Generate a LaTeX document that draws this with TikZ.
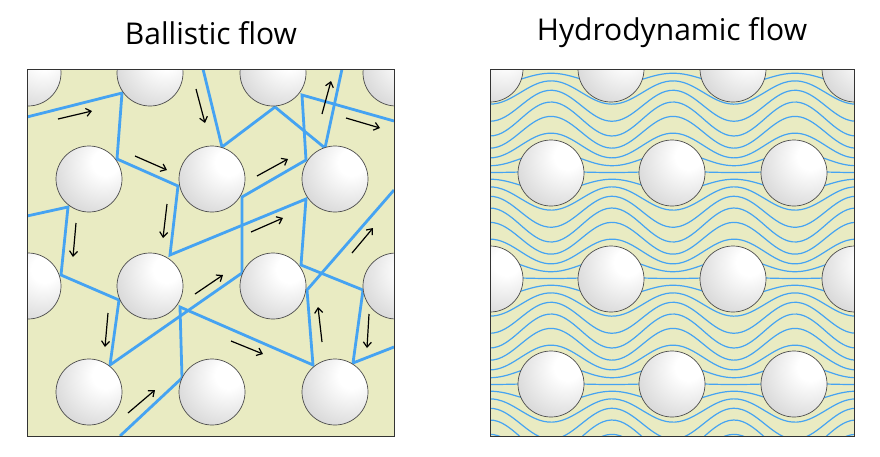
\documentclass[tikz,border=0pt]{standalone}
\usepackage{fontspec}
\setmainfont{Open Sans}
\usetikzlibrary{shadings,arrows.meta}
\definecolor{fluid}{HTML}{E9EBC2}
\definecolor{path}{HTML}{45A3F2}
\pgfdeclareradialshading{glossy}{\pgfpoint{14bp}{14bp}}{%
    color(0bp)=(white); color(10bp)=(white); color(42bp)=(gray!35);
    color(68bp)=(gray!72); color(100bp)=(gray!72)}
\tikzset{
    ray/.style={draw=path, line width=2.8pt, line join=miter},
    stream/.style={draw=path, line width=1.2pt},
    move/.style={-{Straight Barb[length=5pt,width=8pt]}, line width=1.2pt},
    panel/.style={draw=black!80, line width=0.8pt},
    title/.style={font=\fontsize{30}{34}\selectfont}
}
% ball at pixel position
\newcommand{\ball}[2]{%
    \shade[shading=glossy] (#1,#2) circle (33);
    \draw[black!70, line width=0.7pt] (#1,#2) circle (33);
}
\begin{document}
\begin{tikzpicture}[x=1pt, y=-1pt]
    \useasboundingbox (0,0) rectangle (880,456);

    % Titles
    \node[title] (t1) at (211,33) {Ballistic flow};
    \node[title] (t2) at (672,33) {Hydrodynamic flow};

    % Ballistic panel
    \begin{scope}
        \clip (27,69) rectangle (394,436);
        \fill[fluid] (27,69) rectangle (394,436);
        % trajectories
        \draw[ray] (27,117) -- (122,93) -- (117,159) -- (178,186) -- (170,255)
            -- (306,199) -- (301,265) -- (363,290) -- (353,363) -- (394,347);
        \draw[ray] (203,69) -- (222,147) -- (275,107) -- (325,148) -- (342,69);
        \draw[ray] (394,121) -- (302,95) -- (306,160) -- (242,197) -- (242,273)
            -- (110,365) -- (119,300) -- (61,275) -- (68,207) -- (27,216);
        \draw[ray] (394,190) -- (307,290) -- (313,365) -- (180,307) -- (182,378)
            -- (120,436);
        % scatterers
        \foreach \y in {73,286}
            \foreach \x in {28,150,273,396} {\ball{\x}{\y}}
        \foreach \y in {179,392}
            \foreach \x in {89,212,335} {\ball{\x}{\y}}
    \end{scope}
    \draw[panel] (27,69) rectangle (394,436);

    % velocity arrows
    \draw[move] (58,119) -- (92,111);
    \draw[move] (196,89) -- (205,123);
    \draw[move] (135,156) -- (167,170);
    \draw[move] (322,114) -- (331,81);
    \draw[move] (346,118) -- (380,128);
    \draw[move] (257,176) -- (288,159);
    \draw[move] (167,204) -- (163,238);
    \draw[move] (76,223) -- (73,257);
    \draw[move] (251,232) -- (283,218);
    \draw[move] (352,253) -- (373,228);
    \draw[move] (108,313) -- (105,347);
    \draw[move] (195,294) -- (223,275);
    \draw[move] (231,341) -- (263,354);
    \draw[move] (322,342) -- (318,307);
    \draw[move] (369,314) -- (367,348);
    \draw[move] (128,413) -- (155,390);

    % Hydrodynamic panel
    \begin{scope}
        \clip (490,69) rectangle (854,436);
        \fill[fluid] (490,69) rectangle (854,436);
        % streamlines
        \foreach \b in {0,...,30}
            \draw[stream] plot[domain=485:860, samples=90, smooth]
                (\x, {66+13.25*\b + 17*cos(2.9508*(\x-551))*sin(1.6981*(66+13.25*\b-173))});
        % obstacles
        \foreach \y in {69,279}
            \foreach \x in {490,611,733,855} {\ball{\x}{\y}}
        \foreach \y in {173,384}
            \foreach \x in {551,672,794} {\ball{\x}{\y}}
    \end{scope}
    \draw[panel] (490,69) rectangle (854,436);
\end{tikzpicture}
\end{document}
